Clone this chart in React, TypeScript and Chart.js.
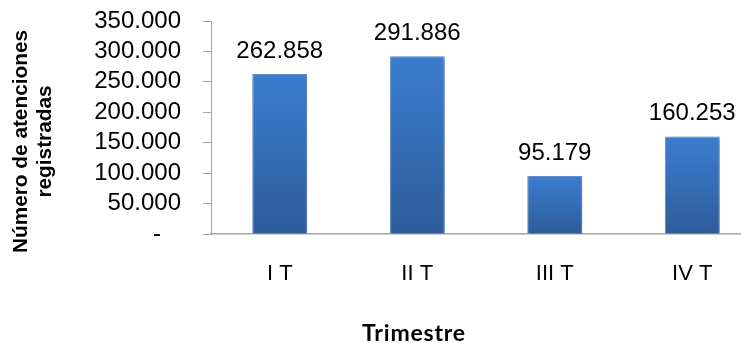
import { useEffect, useRef } from "react";
import { Chart, registerables } from "chart.js";

Chart.register(...registerables);

// Attention counts per quarter
const categories = ["I T", "II T", "III T", "IV T"];
const atenciones = [262858, 291886, 95179, 160253];

// Value axis range
const yMin = 0;
const yMax = 350000;
const yStep = 50000;

const xTitle = "Trimestre";
const yTitle = ["Número de atenciones", "registradas"];

const AXIS_GRAY = "#a3a3a3";
const NUM_FONT = "'Liberation Sans', Arial, sans-serif";

// Spanish thousands separator: 262858 -> "262.858"
function fmtMiles(v: number): string {
  return Math.round(v)
    .toString()
    .replace(/\B(?=(\d{3})+(?!\d))/g, ".");
}

const barShadow = {
  id: "barShadow",
  beforeDatasetsDraw(chart: any) {
    const ctx = chart.ctx;
    ctx.save();
    ctx.shadowColor = "rgba(0,0,0,0.35)";
    ctx.shadowBlur = 5;
    ctx.shadowOffsetX = 2;
    ctx.shadowOffsetY = 2;
  },
  afterDatasetsDraw(chart: any) {
    chart.ctx.restore();
  },
};

const valueLabels = {
  id: "valueLabels",
  afterDatasetsDraw(chart: any) {
    const ctx = chart.ctx;
    const meta = chart.getDatasetMeta(0);
    const data = chart.data.datasets[0].data as number[];
    ctx.save();
    ctx.font = `24px ${NUM_FONT}`;
    ctx.fillStyle = "#000";
    ctx.textAlign = "center";
    ctx.textBaseline = "alphabetic";
    meta.data.forEach((el: any, i: number) => {
      ctx.fillText(fmtMiles(data[i]), el.x, el.y - 16);
    });
    ctx.restore();
  },
};

const axisTitles = {
  id: "axisTitles",
  afterDraw(chart: any) {
    const ctx = chart.ctx;
    const area = chart.chartArea;
    ctx.save();
    ctx.fillStyle = "#000";
    ctx.textAlign = "center";
    ctx.textBaseline = "alphabetic";

    // category axis title
    ctx.font = "bold 23px Lato, 'Liberation Sans', sans-serif";
    (ctx as any).letterSpacing = "0.8px";
    ctx.fillText(xTitle, area.left + 203, 341);
    (ctx as any).letterSpacing = "0px";

    // value axis title, two rotated lines
    ctx.font = `bold 20.8px ${NUM_FONT}`;
    const lines = [
      { text: yTitle[0], x: 27, y: area.top + 120.5 },
      { text: yTitle[1], x: 50.5, y: area.top + 120.5 },
    ];
    lines.forEach((l) => {
      ctx.save();
      ctx.translate(l.x, l.y);
      ctx.rotate(-Math.PI / 2);
      ctx.fillText(l.text, 0, 0);
      ctx.restore();
    });
    ctx.restore();
  },
};

export default function App() {
  const canvasRef = useRef<HTMLCanvasElement | null>(null);

  useEffect(() => {
    const canvas = canvasRef.current;
    if (!canvas) return;

    const chart = new Chart(canvas, {
      type: "bar",
      data: {
        labels: categories,
        datasets: [
          {
            data: atenciones,
            backgroundColor: (c: any) => {
              const ch = c.chart;
              if (!ch.chartArea || c.dataIndex === undefined || c.raw === undefined) {
                return "#3670bd";
              }
              const y = ch.scales.y;
              const top = y.getPixelForValue(c.raw);
              const bottom = y.getPixelForValue(0);
              const g = ch.ctx.createLinearGradient(0, top, 0, bottom);
              g.addColorStop(0, "#3c7dd0");
              g.addColorStop(1, "#2d5c9a");
              return g;
            },
            borderColor: "rgba(88,140,210,0.9)",
            borderWidth: 1,
            barPercentage: 0.4,
            categoryPercentage: 1,
          },
        ],
      },
      options: {
        responsive: false,
        animation: false,
        devicePixelRatio: 1,
        layout: { padding: { left: 0, right: 19, top: 21, bottom: 0 } },
        plugins: {
          legend: { display: false },
          tooltip: { enabled: false },
        },
        scales: {
          x: {
            afterFit: (s: any) => {
              s.height = 109;
            },
            grid: { display: false, drawTicks: false },
            border: { display: true, color: AXIS_GRAY, width: 1.5 },
            ticks: {
              font: { family: NUM_FONT, size: 22 },
              color: "#000",
              padding: 27,
            },
          },
          y: {
            min: yMin,
            max: yMax,
            afterFit: (s: any) => {
              s.width = 211;
              s.paddingTop = 0;
              s.paddingBottom = 0;
            },
            grid: {
              display: true,
              drawOnChartArea: false,
              drawTicks: true,
              tickLength: 8,
              color: AXIS_GRAY,
            },
            border: { display: true, color: AXIS_GRAY },
            ticks: {
              stepSize: yStep,
              autoSkip: false,
              padding: 22,
              font: { family: NUM_FONT, size: 24 },
              color: "#000",
              callback: (v: any) => (Number(v) === 0 ? "-   " : fmtMiles(Number(v))),
            },
          },
        },
      },
      plugins: [barShadow, valueLabels, axisTitles],
    });

    return () => chart.destroy();
  }, []);

  return (
    <div
      style={{
        position: "absolute",
        left: 0,
        top: 0,
        width: 741,
        height: 343,
        overflow: "hidden",
        background: "#fff",
      }}
    >
      <canvas ref={canvasRef} width={780} height={343} style={{ display: "block" }} />
    </div>
  );
}
